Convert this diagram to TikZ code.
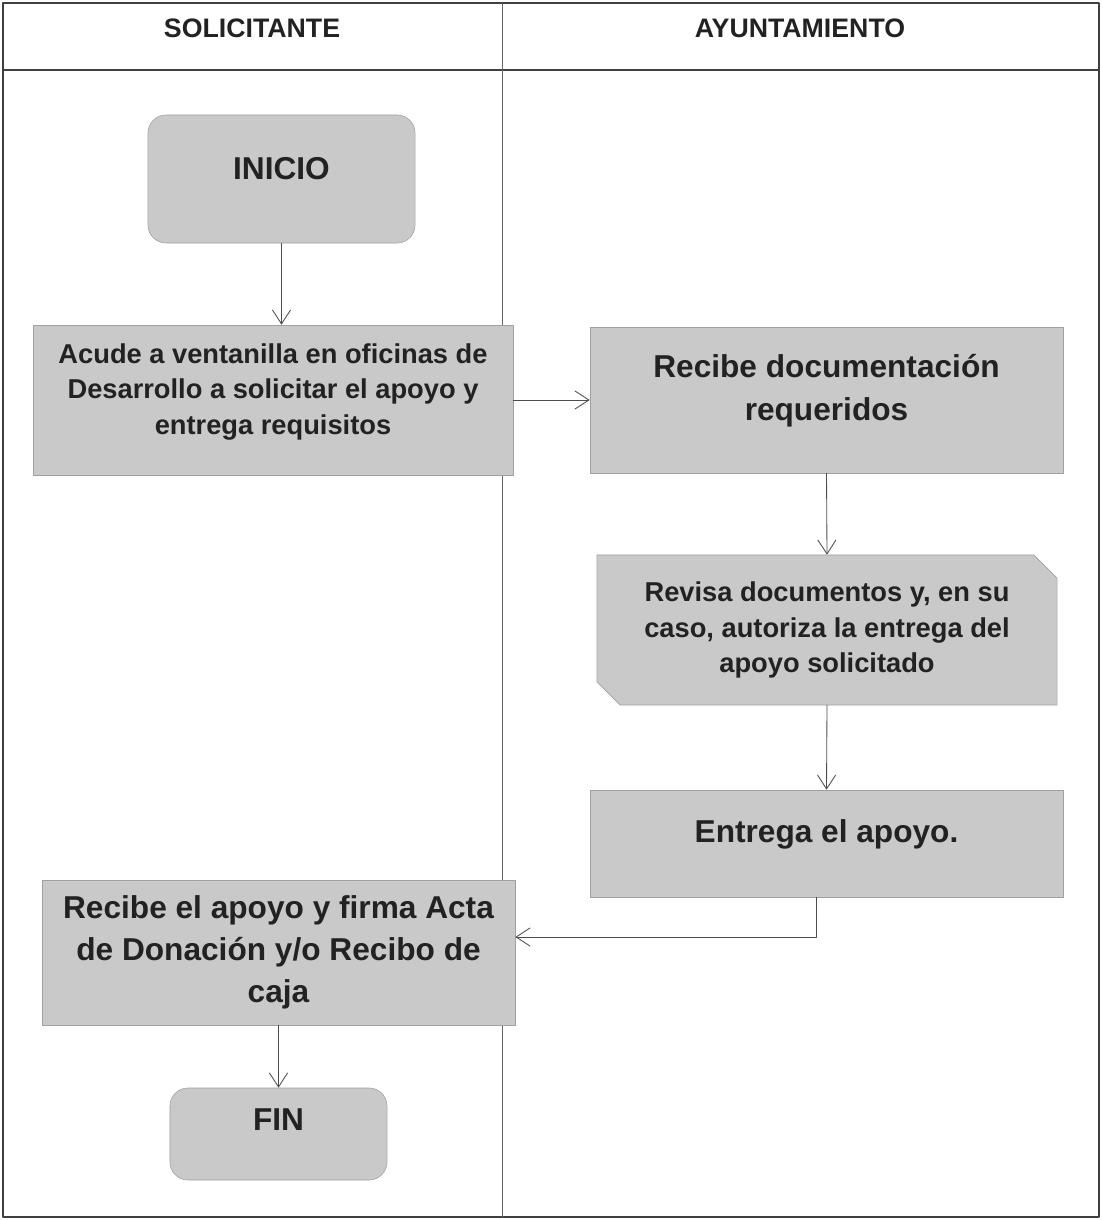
\documentclass[tikz,border=0pt]{standalone}
\usepackage{fontspec}
\setmainfont{Liberation Sans}
\usetikzlibrary{arrows.meta,shapes.misc}
\definecolor{boxgray}{HTML}{C9C9C9}
\definecolor{edgegray}{HTML}{A0A0A0}
\definecolor{inkgray}{HTML}{222222}
\begin{document}
\begin{tikzpicture}[x=0.025cm,y=-0.025cm,line cap=round,line join=round,
  proc/.style={draw=edgegray,fill=boxgray,text=inkgray,align=center,inner sep=0pt,font=\bfseries\fontsize{22.5}{30}\selectfont},
  small/.style={font=\bfseries\fontsize{19.4}{25.5}\selectfont},
  term/.style={proc,rounded corners=0.45cm},
  head/.style={text=inkgray,font=\bfseries\fontsize{19}{23}\selectfont},
  flow/.style={draw=black!70,line width=0.6pt,-{Straight Barb[length=10pt,width=13pt]}}]
\useasboundingbox (0,0) rectangle (1102,1220);
% swimlanes
\draw[black!75,line width=0.8pt] (3,3) rectangle (1099,1217);
\draw[black!75,line width=1.2pt] (3,70)--(1099,70);\draw[black!60,line width=0.6pt] (502,3)--(502,1217);
\node[head] (hsol) at (252,28) {SOLICITANTE};\node[head] (hayu) at (800,28) {AYUNTAMIENTO};
% boxes
\node[term,minimum width=6.675cm,minimum height=3.2cm,text depth=15.6pt] (inicio) at (281.5,179) {INICIO};
\node[proc,small,minimum width=12cm,minimum height=3.75cm,text depth=15.6pt] (acude) at (273,400) {Acude a ventanilla en oficinas de\\Desarrollo a solicitar el apoyo y\\entrega requisitos};
\node[proc,minimum width=11.825cm,minimum height=3.65cm,text depth=18pt] (recdoc) at (826.5,400) {Recibe documentación\\requeridos};
\node[proc,small,chamfered rectangle,chamfered rectangle corners={north east,south west},chamfered rectangle xsep=0.33cm,chamfered rectangle ysep=0.25cm,minimum width=11.5cm,minimum height=3.75cm] (revisa) at (827,630) {Revisa documentos y, en su\\caso, autoriza la entrega del\\apoyo solicitado};
\node[proc,minimum width=11.825cm,minimum height=2.675cm,text depth=17.8pt] (entrega) at (826.5,843.5) {Entrega el apoyo.};
\node[proc,minimum width=11.825cm,minimum height=3.625cm] (recapoyo) at (278.5,952.5) {Recibe el apoyo y firma Acta\\de Donación y/o Recibo de\\caja};
\node[term,minimum width=5.425cm,minimum height=2.3cm,text depth=20pt] (fin) at (278.5,1134) {FIN};
% connectors
\coordinate (bend) at (816,937);
\draw[flow] (inicio.south)--(inicio.south|-acude.north);\draw[flow] (acude.east)--(recdoc.west);
\draw[flow] (recdoc.south)--(revisa.north);\draw[flow] (revisa.south)--(entrega.north);
\draw[flow] (entrega.south-|bend)--(bend)--(recapoyo.east|-bend);
\draw[flow] (recapoyo.south)--(fin.north);
\end{tikzpicture}
\end{document}
